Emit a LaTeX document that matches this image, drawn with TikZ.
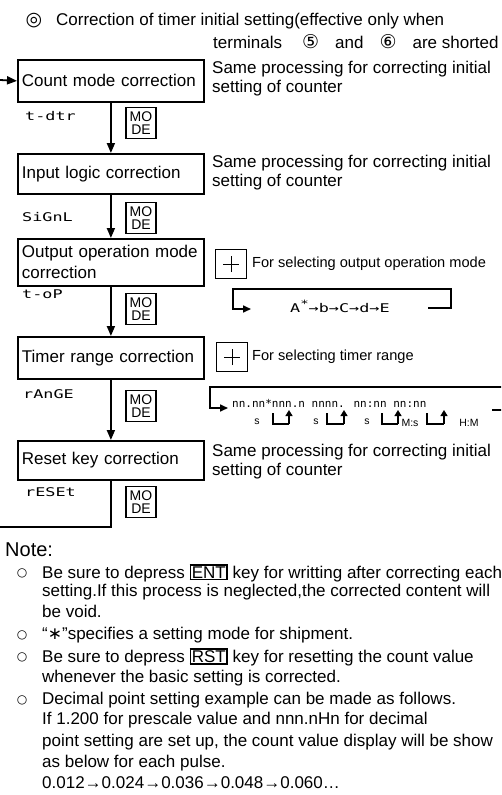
\documentclass[tikz,border=0pt]{standalone}
\usepackage{fontspec}
\setmainfont{Liberation Sans}
\newfontfamily\symfont{DejaVu Sans}
\newfontfamily\segfont{DejaVu Sans Mono}
\usetikzlibrary{arrows.meta}
\newcommand{\segtext}[1]{\scalebox{1.4}[1]{\segfont\fontsize{12}{12}\selectfont #1}}
\newcommand{\keybox}[1]{{\setlength{\fboxsep}{0.6pt}\setlength{\fboxrule}{1.6pt}\fbox{#1}}}
\begin{document}
\begin{tikzpicture}[x=1pt,y=-1pt,
  box/.style={draw, line width=1.8pt, minimum width=186pt, minimum height=42pt, anchor=north west,
    inner xsep=4pt, inner ysep=2pt, text width=178pt, align=left, font=\fontsize{17}{21}\selectfont},
  modekey/.style={draw, line width=1.6pt, minimum width=30pt, minimum height=31pt, inner sep=0pt,
    align=center, font=\fontsize{14}{12.5}\selectfont},
  pluskey/.style={draw, line width=1.4pt, minimum width=31pt, minimum height=29pt, inner sep=0pt,
    path picture={
      \draw[line width=0.7pt] ([xshift=-8pt]path picture bounding box.center) -- ([xshift=8pt]path picture bounding box.center);
      \draw[line width=0.7pt] ([yshift=-8pt]path picture bounding box.center) -- ([yshift=8pt]path picture bounding box.center);}},
  arr/.style={line width=1.8pt, -{Triangle[length=10pt,width=8pt]}},
  sarr/.style={line width=1.6pt, -{Triangle[length=8pt,width=7pt]}},
  tarr/.style={line width=1.3pt, -{Triangle[length=6pt,width=7pt]}},
  txt/.style={anchor=west, inner sep=0pt, font=\fontsize{17}{20}\selectfont},
  stxt/.style={anchor=west, inner sep=0pt, font=\fontsize{14.6}{17}\selectfont},
  tiny/.style={anchor=center, inner sep=0pt, font=\fontsize{10.5}{12}\selectfont},
  seg/.style={anchor=west, inner sep=0pt},
  bullet/.style={anchor=center, inner sep=0pt, font=\symfont\fontsize{12}{12}\selectfont}
]
\useasboundingbox (0,0) rectangle (501,795);
\clip (0,0) rectangle (501,795);

% title
\node[anchor=center, inner sep=0pt, font=\symfont\fontsize{19}{19}\selectfont] (tsym) at (34,21) {◎};
\node[txt] (t1) at (56,21) {Correction of timer initial setting(effective only when};
\node[txt] (t2) at (213,42) {terminals\hspace{20pt}{\symfont\fontsize{19}{19}\selectfont ⑤}\hspace{16pt}and\hspace{16pt}{\symfont\fontsize{19}{19}\selectfont ⑥}\hspace{16pt}are shorted};

% main boxes
\node[box] (b1) at (17,59) {Count mode correction};
\node[box, minimum height=40pt] (b2) at (17,153) {Input logic correction};
\node[box, minimum height=47pt] (b3) at (17,238) {Output operation mode\\correction};
\node[box] (b4) at (17,336) {Timer range correction};
\node[box, minimum height=39pt] (b5) at (17,440) {Reset key correction};

\coordinate (start) at (0,80);
\coordinate (finish) at (0,527);
\draw[arr] (start) -- (b1.west);
\draw[arr] (b1) -- (b2);
\draw[arr] (b2) -- (b3);
\draw[arr] (b3) -- (b4);
\draw[arr] (b4) -- (b5);
\draw[line width=1.8pt] (b5.south) |- (finish);

% display codes
\node[seg] (s1) at (25,116) {\segtext{t-dtr}};
\node[seg] (s2) at (22,217) {\segtext{SiGnL}};
\node[seg] (s3) at (22,294) {\segtext{t-oP}};
\node[seg] (s4) at (23,394) {\segtext{rAnGE}};
\node[seg] (s5) at (25,492) {\segtext{rESEt}};

% MODE keys
\node[modekey] (m1) at (141,123) {MO\\DE};
\node[modekey] (m2) at (141,218) {MO\\DE};
\node[modekey] (m3) at (141,309) {MO\\DE};
\node[modekey] (m4) at (141,406) {MO\\DE};
\node[modekey] (m5) at (141,502) {MO\\DE};

% right side notes
\node[txt] (r1a) at (212,69) {Same processing for correcting initial};
\node[txt] (r1b) at (212,88) {setting of counter};
\node[txt] (r2a) at (212,163) {Same processing for correcting initial};
\node[txt] (r2b) at (212,182) {setting of counter};
\node[pluskey] (p1) at (231,264) {};
\node[stxt] (r3) at (252,264) {For selecting output operation mode};
\node[pluskey] (p2) at (232,357) {};
\node[stxt] (r4) at (252,357) {For selecting timer range};
\node[txt] (r5a) at (212,452) {Same processing for correcting initial};
\node[txt] (r5b) at (212,471) {setting of counter};

% output operation mode loop
\node[seg] (opseq) at (290,306) {\segtext{A\raisebox{5pt}{\fontsize{10}{10}\selectfont *}→b→C→d→E}};
\coordinate (op1) at (428,308);
\coordinate (op2) at (251,309);
\draw[sarr] (op1) -- (451,308) -- (451,289) -- (233,289) -- (233,309) -- (op2);

% timer range loop
\node[seg, font=\segfont\fontsize{11}{11}\selectfont] (tseq) at (232,403) {nn.nn*nnn.n nnnn. nn:nn nn:nn};
\coordinate (tr1) at (492,410);
\coordinate (tr2) at (228,408);
\draw[sarr] (tr1) -- (520,410) -- (520,387) -- (210,387) -- (210,408) -- (tr2);
\node[tiny] (u1) at (257,422) {s};
\node[tiny] (u2) at (316,422) {s};
\node[tiny] (u3) at (367,422) {s};
\node[tiny] (u4) at (410,423) {M:s};
\node[tiny] (u5) at (469,423) {H:M};
\foreach \a/\b in {273/289, 327/344, 382/398, 427/444}{
  \draw[line width=1.3pt] (\a,413) -- (\a,424) -- (\b,424);
  \draw[tarr] (\b,424) -- (\b,410);
}

% notes
\node[anchor=west, inner sep=0pt, font=\fontsize{20}{22}\selectfont] (note) at (5,550) {Note:};
\node[bullet] (o1) at (22,573) {○};
\node[txt] (n1) at (42,573) {Be sure to depress \keybox{ENT} key for writting after correcting each};
\node[txt] (n2) at (42,592) {setting.If this process is neglected,the corrected content will};
\node[txt] (n3) at (42,611) {be void.};
\node[bullet] (o2) at (22,635) {○};
\node[txt] (n4) at (42,635) {“{\symfont ∗}”specifies a setting mode for shipment.};
\node[bullet] (o3) at (22,657) {○};
\node[txt] (n5) at (42,657) {Be sure to depress \keybox{RST} key for resetting the count value};
\node[txt] (n6) at (42,678) {whenever the basic setting is corrected.};
\node[bullet] (o4) at (22,700) {○};
\node[txt] (n7) at (42,700) {Decimal point setting example can be made as follows.};
\node[txt] (n8) at (42,720) {If 1.200 for prescale value and nnn.nHn for decimal};
\node[txt] (n9) at (42,742) {point setting are set up, the count value display will be show};
\node[txt] (n10) at (42,763) {as below for each pulse.};
\node[txt] (n11) at (42,783) {0.012→0.024→0.036→0.048→0.060…};
\end{tikzpicture}
\end{document}
